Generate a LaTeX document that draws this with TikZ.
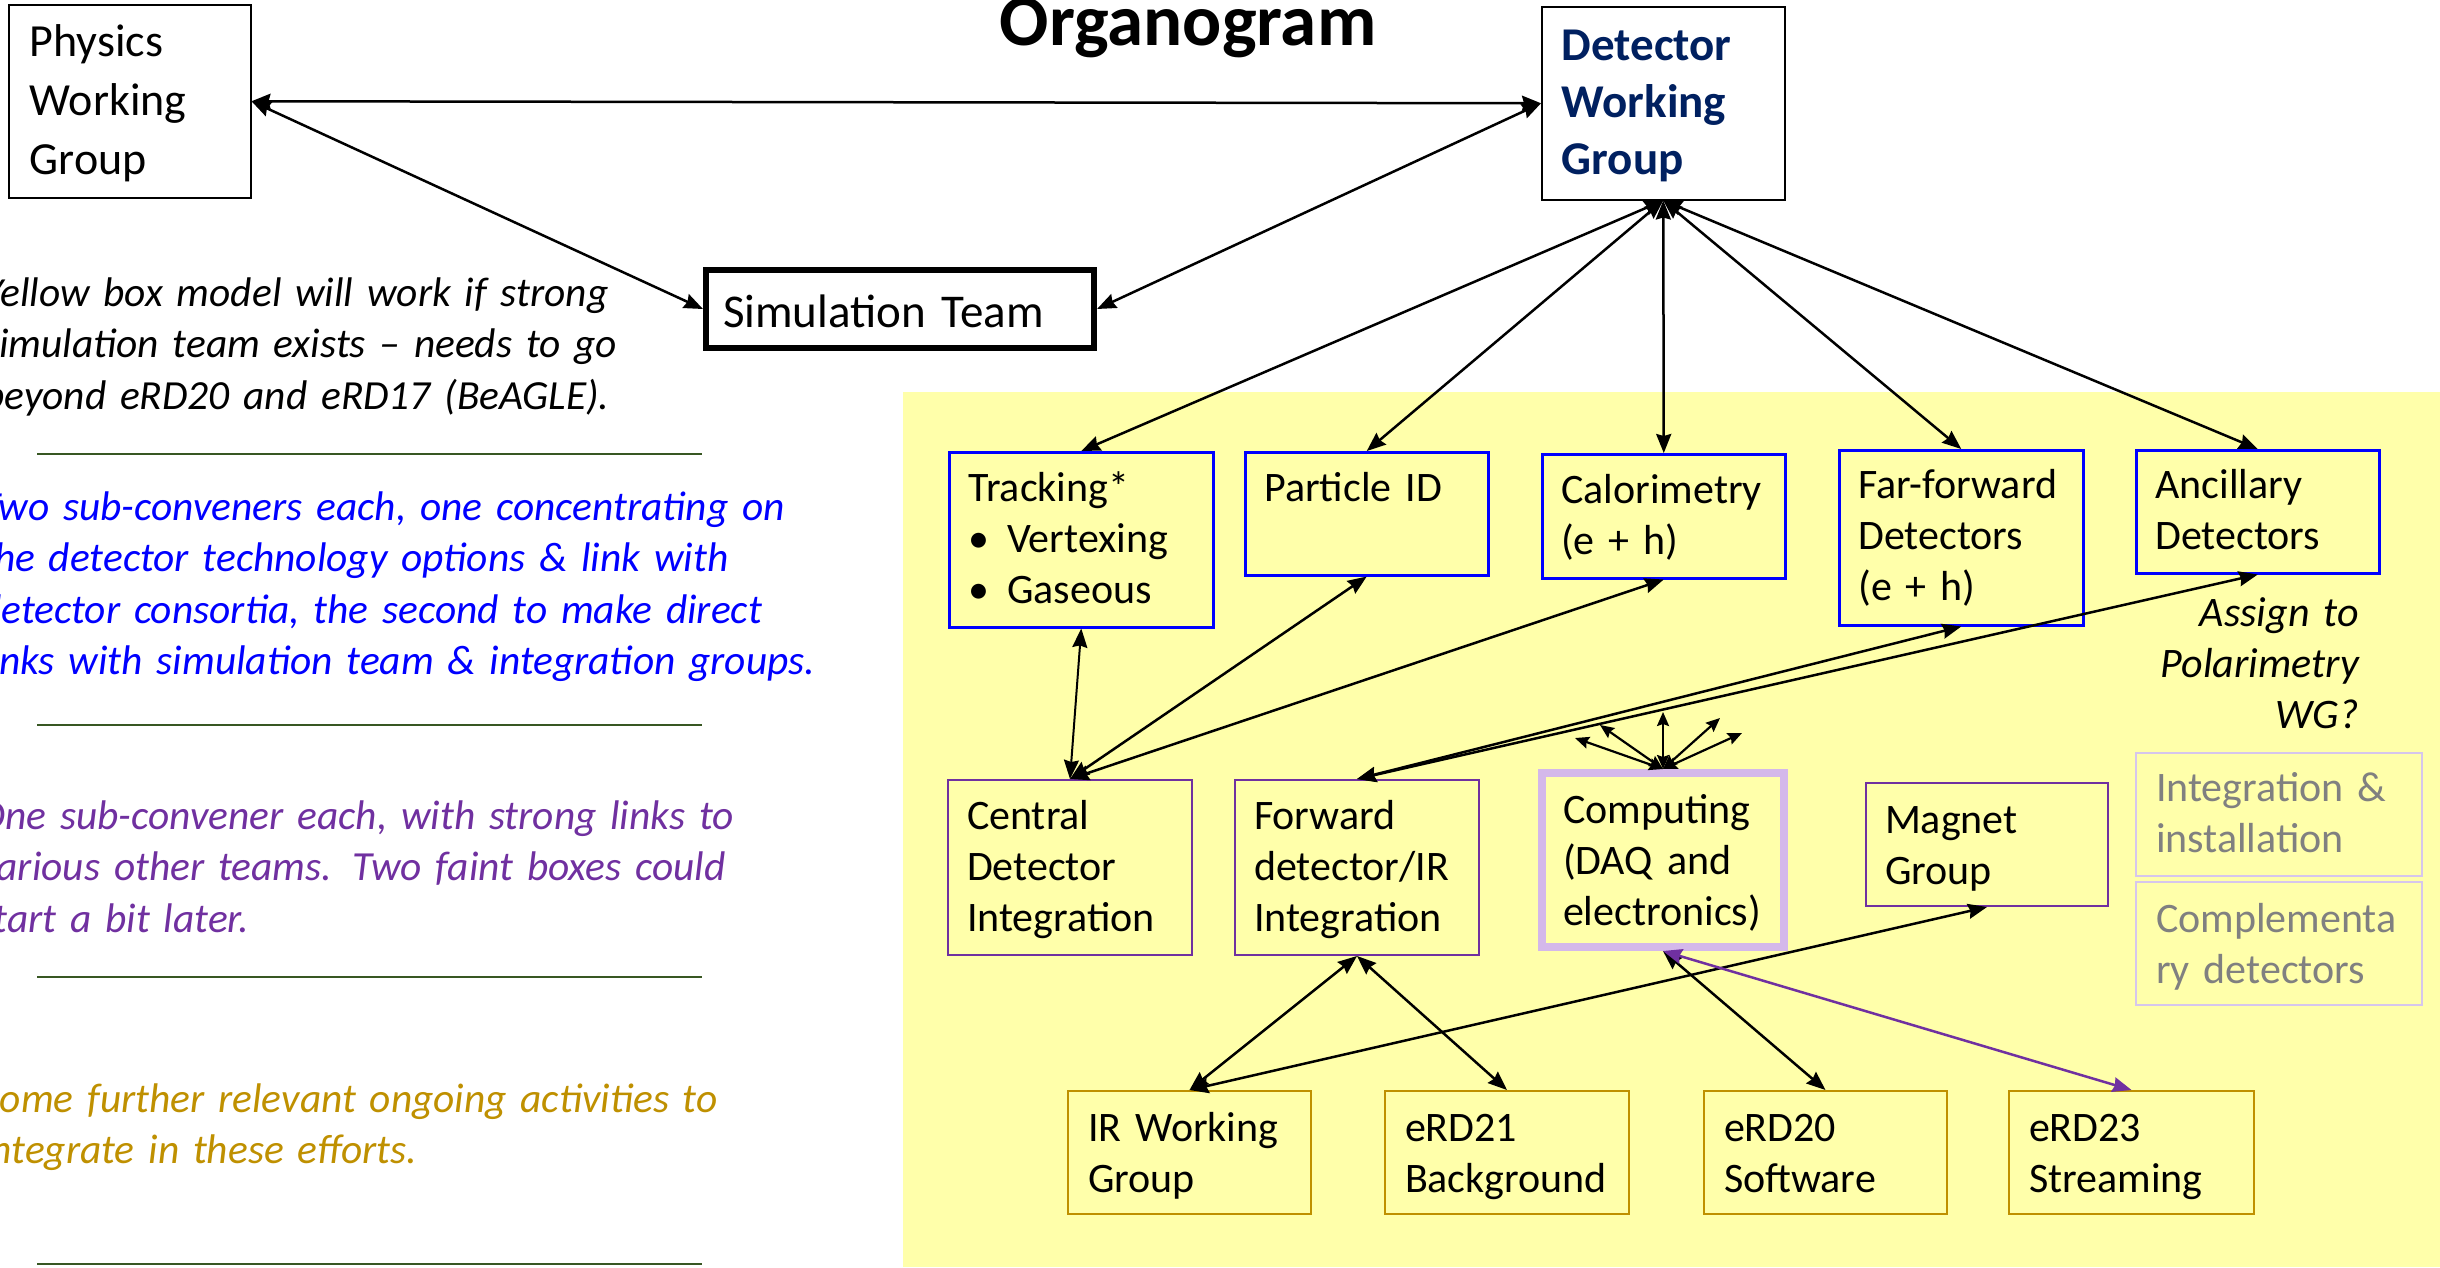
\documentclass[tikz,border=0pt]{standalone}
\usepackage{fontspec}
\setmainfont{Carlito}
\usetikzlibrary{arrows.meta,calc}
\definecolor{bgyellow}{RGB}{255,255,170}
\definecolor{myblue}{RGB}{0,0,255}
\definecolor{mypurple}{RGB}{112,48,160}
\definecolor{mygold}{RGB}{191,144,0}
\definecolor{navy}{RGB}{0,32,96}
\definecolor{lav}{RGB}{212,184,234}
\definecolor{faint}{RGB}{214,198,236}
\definecolor{sepgreen}{RGB}{56,87,35}
\definecolor{gtext}{RGB}{128,128,128}
\tikzset{
  box/.style={anchor=north west, inner ysep=0pt, inner xsep=19pt, align=left,
    font=\fontsize{42}{51}\selectfont, line width=2pt},
  bx/.style args={#1/#2/#3}{text width=#1pt, text height=#2pt, text depth=#3pt},
  bluebox/.style={box, draw=myblue, line width=2.5pt},
  purplebox/.style={box, draw=mypurple},
  goldbox/.style={box, draw=mygold},
  faintbox/.style={box, draw=faint, text=gtext, inner xsep=20pt},
  lefttxt/.style={anchor=base west, inner sep=0pt, text width=900pt, align=left,
    font=\itshape\fontsize{41.4}{51.5}\selectfont},
  sepline/.style={draw=sepgreen, line width=1.5pt},
  conn/.style={line width=2.5pt, {Stealth[length=19pt,width=15pt,inset=2pt]}-{Stealth[length=19pt,width=15pt,inset=2pt]}},
  spoke/.style={line width=2.2pt, {Stealth[length=14pt,width=12pt,inset=2pt]}-{Stealth[length=14pt,width=12pt,inset=2pt]}},
}
\begin{document}
\begin{tikzpicture}[x=1pt,y=-1pt]
\useasboundingbox (0,0) rectangle (2440,1267);
\clip (0,0) rectangle (2440,1267);
\fill[white] (0,0) rectangle (2440,1267);
\fill[bgyellow] (903,392) rectangle (2440,1267);

% title
\node[anchor=base, inner sep=0pt, font=\bfseries\fontsize{73}{80}\selectfont] (title) at (1188,45) {Organogram};

% top boxes
\node[box, draw=black, line width=1.5pt, inner xsep=21pt, bx=200/52/141,
  font=\fontsize{46}{59}\selectfont] (physics) at (8,4) {Physics\\Working\\Group};
\node[box, draw=black, line width=1.5pt, inner xsep=20pt, bx=203/54/139,
  text=navy, font=\bfseries\fontsize{47}{57}\selectfont] (dwg) at (1541,6) {Detector\\Working\\Group};
\node[box, draw=black, line width=6pt, inner xsep=17pt, bx=354/57/21,
  font=\fontsize{47}{57}\selectfont] (sim) at (703,267) {Simulation Team};

% row 1
\node[bluebox, bx=226/49/126] (tracking) at (948,451)
  {Tracking*\\\makebox[39pt][l]{•}Vertexing\\\makebox[39pt][l]{•}Gaseous};
\node[bluebox, bx=205/49/74] (pid) at (1244,451) {\mbox{Particle ID}};
\node[bluebox, bx=205/49/75] (calo) at (1541,453) {Calorimetry\\(e + h)};
\node[bluebox, bx=206/48/127] (ff) at (1838,449) {\mbox{Far-forward}\\Detectors\\(e + h)};
\node[bluebox, bx=205/48/75] (anc) at (2135,449) {Ancillary\\Detectors};

% row 2
\node[purplebox, bx=206/49/126] (central) at (947,779) {Central\\Detector\\Integration};
\node[purplebox, bx=206/49/126] (forward) at (1234,779) {Forward\\\mbox{detector/IR}\\Integration};
\node[box, draw=lav, line width=8pt, inner xsep=21pt, bx=200/50/124] (computing) at (1538,769)
  {Computing\\\mbox{(DAQ and}\\\mbox{electronics)}};
\node[purplebox, bx=204/50/73] (magnet) at (1865,782) {Magnet\\Group};
\node[faintbox, bx=246/48/75] (integ) at (2135,752) {\mbox{Integration \&}\\installation};
\node[faintbox, bx=246/50/73] (compl) at (2135,881) {\mbox{Complementa}\\\mbox{ry detectors}};

% row 3
\node[goldbox, inner xsep=20pt, bx=203/50/73] (ir) at (1067,1090) {\mbox{IR Working}\\Group};
\node[goldbox, inner xsep=20pt, bx=204/50/73] (erd21) at (1384,1090) {eRD21\\Background};
\node[goldbox, inner xsep=20pt, bx=203/50/73] (erd20) at (1703,1090) {eRD20\\Software};
\node[goldbox, inner xsep=20pt, bx=205/50/73] (erd23) at (2008,1090) {eRD23\\Streaming};

% side note
\node[anchor=base east, inner sep=0pt, text width=300pt, align=right,
  font=\itshape\fontsize{42}{51}\selectfont] (assign) at (2359,626) {Assign to\\Polarimetry\\WG?};

% left column texts
\node[lefttxt, text=black] (note1) at (-17,306)
  {Yellow box model will work if strong\\simulation team exists – needs to go\\beyond eRD20 and eRD17 (BeAGLE).};
\node[lefttxt, text=myblue] (note2) at (-20,520)
  {Two sub-conveners each, one concentrating on\\the detector technology options \& link with\\detector consortia, the second to make direct\\links with simulation team \& integration groups.};
\node[lefttxt, text=mypurple] (note3) at (-22,829)
  {One sub-convener each, with strong links to\\various other teams. Two faint boxes could\\start a bit later.};
\node[lefttxt, text=mygold] (note4) at (-19,1112)
  {Some further relevant ongoing activities to\\integrate in these efforts.};

\draw[sepline] (37,454) -- (702,454);
\draw[sepline] (37,725) -- (702,725);
\draw[sepline] (37,977) -- (702,977);
\draw[sepline] (37,1264) -- (702,1264);

% connectors
\draw[conn] (physics.east) -- (dwg.west);
\draw[conn] (physics.east) -- (sim.west);
\draw[conn] (sim.east) -- (dwg.west);
\foreach \t in {tracking,pid,calo,ff,anc} \draw[conn] (dwg.south) -- (\t.north);
\draw[conn, line width=2pt] (tracking.south) -- (central.north);
\draw[conn] (pid.south) -- (central.north);
\draw[conn] (calo.south) -- (central.north);
\draw[conn] (ff.south) -- (forward.north);
\draw[conn] (anc.south) -- (forward.north);
\draw[conn] (forward.south) -- (ir.north);
\draw[conn] (forward.south) -- (erd21.north);
\draw[conn] (magnet.south) -- (ir.north);
\draw[conn] (computing.south) -- (erd20.north);
\draw[conn, draw=mypurple, fill=mypurple] (computing.south) -- (erd23.north);

\coordinate (s1) at (1575,738);
\coordinate (s2) at (1600,725);
\coordinate (s3) at (1663,712);
\coordinate (s4) at (1720,718);
\coordinate (s5) at (1742,733);
\foreach \s in {s1,s2,s3,s4,s5} \draw[spoke] (computing.north) -- (\s);
\end{tikzpicture}
\end{document}
